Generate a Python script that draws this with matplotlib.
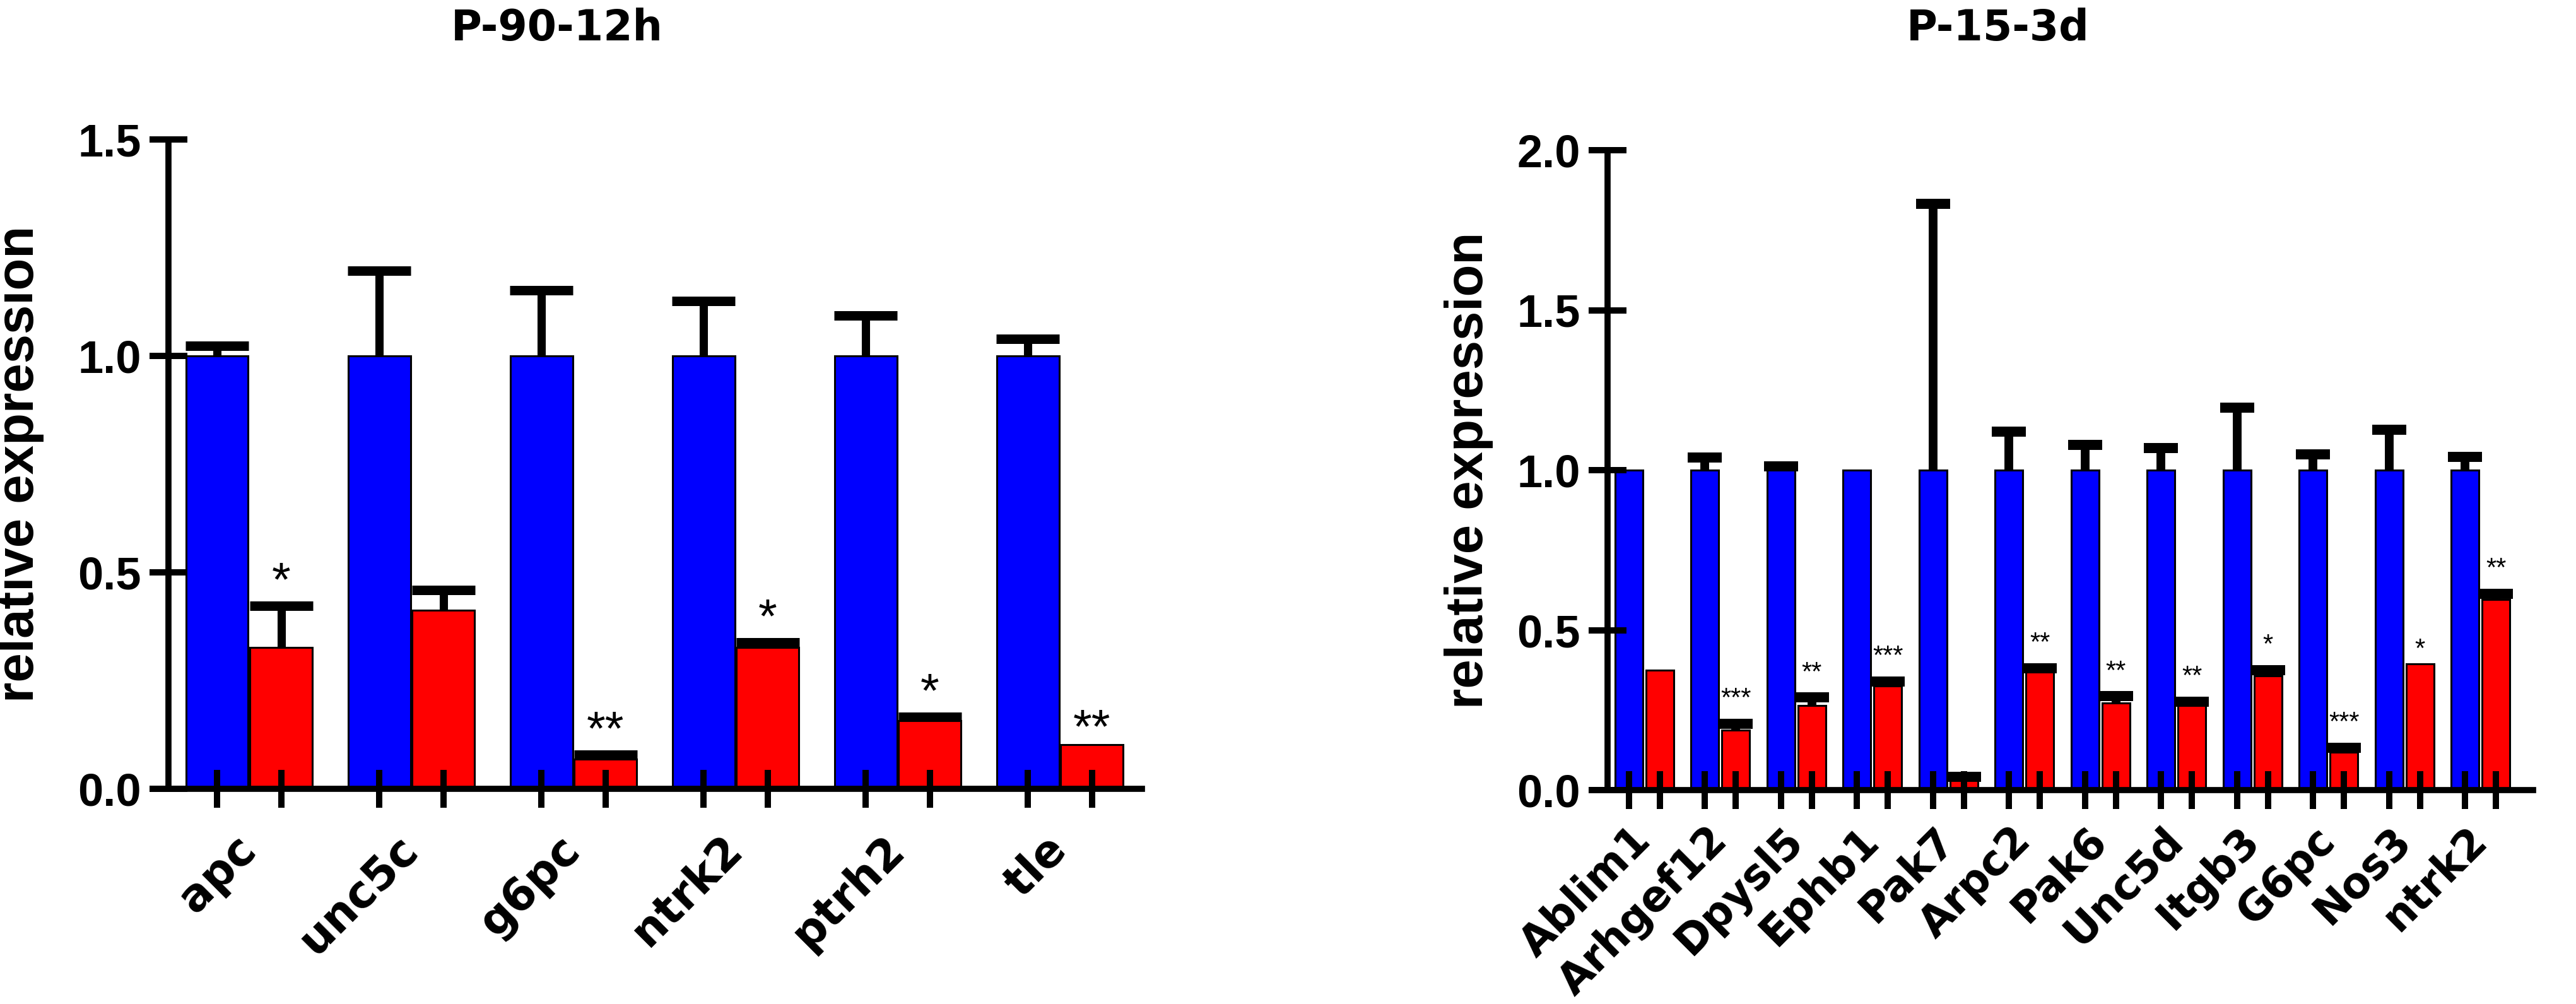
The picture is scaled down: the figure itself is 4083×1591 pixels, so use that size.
import numpy as np
import matplotlib
matplotlib.use("Agg")
import matplotlib.pyplot as plt
from matplotlib.transforms import offset_copy

# ---------------- data ----------------
left_title = "P-90-12h"
left_genes = ["apc", "unc5c", "g6pc", "ntrk2", "ptrh2", "tle"]
left_ctrl = [1.0, 1.0, 1.0, 1.0, 1.0, 1.0]
left_ctrl_err = [0.023, 0.197, 0.151, 0.127, 0.093, 0.039]
left_treat = [0.327, 0.413, 0.069, 0.327, 0.158, 0.102]
left_treat_err = [0.096, 0.046, 0.010, 0.011, 0.008, 0.0]
left_stars = ["*", "", "**", "*", "*", "**"]
left_yticks = [0.0, 0.5, 1.0, 1.5]

right_title = "P-15-3d"
right_genes = ["Ablim1", "Arhgef12", "Dpysl5", "Ephb1", "Pak7", "Arpc2",
               "Pak6", "Unc5d", "Itgb3", "G6pc", "Nos3", "ntrk2"]
right_ctrl = [1.0, 1.0, 1.0, 1.0, 1.0, 1.0, 1.0, 1.0, 1.0, 1.0, 1.0, 1.0]
right_ctrl_err = [0.0, 0.040, 0.012, 0.0, 0.832, 0.120, 0.078, 0.070,
                  0.196, 0.050, 0.126, 0.042]
right_treat = [0.375, 0.188, 0.265, 0.325, 0.032, 0.369, 0.273, 0.265,
               0.357, 0.118, 0.395, 0.595]
right_treat_err = [0.0, 0.020, 0.024, 0.014, 0.010, 0.012, 0.020, 0.012,
                   0.018, 0.014, 0.0, 0.018]
right_stars = ["", "***", "**", "***", "", "**", "**", "**", "*", "***", "*", "**"]
right_yticks = [0.0, 0.5, 1.0, 1.5, 2.0]

ylabel_text = "relative expression"

BLUE = "#0000FF"
RED = "#FF0000"
NUMFONT = "Liberation Sans"
CATFONT = "DejaVu Sans"

W, H = 4083, 1591
DPI = 100
fig = plt.figure(figsize=(W / DPI, H / DPI), dpi=DPI)
fig.patch.set_facecolor("white")


def px_rect(x0, x1, y_top, y_bot):
    return [x0 / W, 1 - y_bot / H, (x1 - x0) / W, (y_bot - y_top) / H]


def panel(ax, genes, ctrl, ctrl_err, treat, treat_err, stars, yticks,
          off, width, xlim, eb_style, star_size, star_pad, star_pad0,
          cat_size, cat_pad, ylab_x):
    n = len(genes)
    x = np.arange(n)
    xb = x - off
    xr = x + off
    ctrl = np.asarray(ctrl)
    treat = np.asarray(treat)
    ctrl_err = np.asarray(ctrl_err)
    treat_err = np.asarray(treat_err)

    ax.bar(xb, ctrl, width, color=BLUE, edgecolor="black", linewidth=2.2, zorder=1)
    ax.bar(xr, treat, width, color=RED, edgecolor="black", linewidth=2.2, zorder=1)

    for xs, vals, errs in [(xb, ctrl, ctrl_err), (xr, treat, treat_err)]:
        m = errs > 0
        if m.any():
            eb = ax.errorbar(xs[m], vals[m], yerr=[np.zeros(m.sum()), errs[m]],
                             fmt="none", ecolor="black", zorder=3, **eb_style)
            eb[1][0].set_visible(False)

    capthick = eb_style["capthick"]
    for xi, v, e, s in zip(xr, treat, treat_err, stars):
        if not s:
            continue
        pad = star_pad if e > 0 else star_pad0
        tr = offset_copy(ax.transData, fig=fig, x=0, y=pad, units="points")
        ax.text(xi, v + e, s, transform=tr, ha="center", va="baseline",
                fontsize=star_size, family=NUMFONT, color="black", zorder=4)

    ax.set_xlim(*xlim)
    ax.set_ylim(yticks[0], yticks[-1])
    for sp in ["top", "right"]:
        ax.spines[sp].set_visible(False)
    for sp in ["left", "bottom"]:
        ax.spines[sp].set_linewidth(7.0)
        ax.spines[sp].set_color("black")

    ax.set_yticks(yticks)
    ax.set_yticklabels([f"{t:.1f}" for t in yticks])
    ax.tick_params(axis="y", direction="inout", length=43, width=7.2, pad=9.4,
                   labelsize=52)
    for lab in ax.get_yticklabels():
        lab.set_family(NUMFONT)
        lab.set_fontweight("bold")

    centers = np.sort(np.concatenate([xb, xr]))
    ax.set_xticks(centers)
    ax.set_xticklabels([])
    ax.tick_params(axis="x", which="major", direction="inout", length=43,
                   width=7.2)
    ax.set_xticks(x, minor=True)
    ax.set_xticklabels(genes, minor=True)
    ax.tick_params(axis="x", which="minor", length=0, pad=cat_pad)
    for lab in ax.get_xticklabels(minor=True):
        lab.set_rotation(45)
        lab.set_ha("right")
        lab.set_va("center")
        lab.set_rotation_mode("anchor")
        lab.set_family(CATFONT)
        lab.set_fontweight("bold")
        lab.set_fontsize(cat_size)

    ax.set_ylabel(ylabel_text, fontsize=60, family=NUMFONT, fontweight="bold")
    ax.yaxis.set_label_coords(ylab_x, 0.5)


# Left panel
axL = fig.add_axes(px_rect(267, 1810, 221, 1250))
panel(axL, left_genes, left_ctrl, left_ctrl_err, left_treat, left_treat_err,
      left_stars, left_yticks, off=0.1975, width=0.385, xlim=(-0.497, 5.505),
      eb_style=dict(elinewidth=9.4, capsize=36, capthick=10.8),
      star_size=55, star_pad=12, star_pad0=3, cat_size=51, cat_pad=62,
      ylab_x=-197 / 1543)

# Right panel
axR = fig.add_axes(px_rect(2548, 4015, 238, 1252))
panel(axR, right_genes, right_ctrl, right_ctrl_err, right_treat, right_treat_err,
      right_stars, right_yticks, off=0.2033, width=0.365, xlim=(-0.485, 11.69),
      eb_style=dict(elinewidth=10, capsize=19.4, capthick=11.5),
      star_size=30, star_pad=20, star_pad0=8, cat_size=48, cat_pad=50,
      ylab_x=-181 / 1467)

fig.text(883 / W, 1 - 45 / H, left_title, ha="center", va="center",
         fontsize=48, family=CATFONT, fontweight="bold")
fig.text(3167 / W, 1 - 45 / H, right_title, ha="center", va="center",
         fontsize=48, family=CATFONT, fontweight="bold")

fig.savefig("out.png", dpi=DPI, facecolor="white")
